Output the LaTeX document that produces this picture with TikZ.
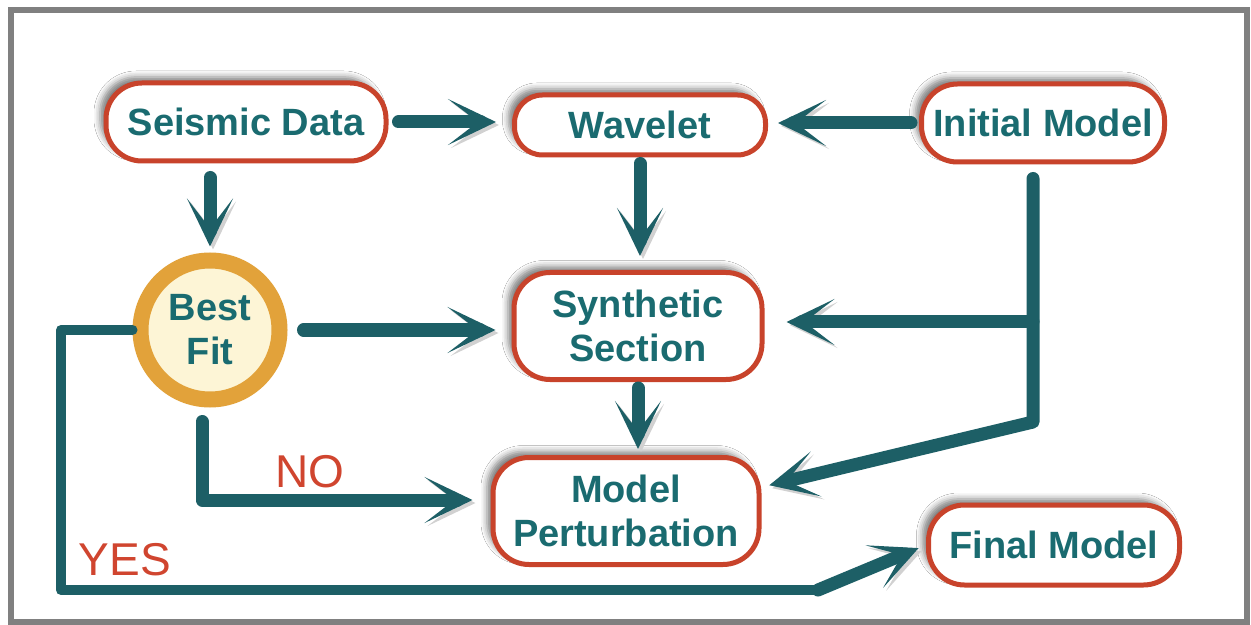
\documentclass[tikz,border=0pt]{standalone}
\usepackage{fontspec}
\setmainfont{Liberation Sans}
\usetikzlibrary{arrows.meta,shadows.blur}

\definecolor{flowteal}{HTML}{1D5F66}
\definecolor{textteal}{HTML}{1A6B70}
\definecolor{boxred}{HTML}{C8432B}
\definecolor{ringorange}{HTML}{E2A23A}
\definecolor{cream}{HTML}{FDF5D6}
\definecolor{labelred}{HTML}{D0452F}
\definecolor{framegray}{HTML}{808080}

\tikzset{
  stepbox/.style={draw=boxred, line width=2.5pt, fill=white, rounded corners=18pt,
    align=center, inner sep=0pt, text=textteal,
    font=\bfseries\fontsize{19}{22}\selectfont,
    blur shadow={shadow xshift=-3pt, shadow yshift=3pt, shadow blur radius=3pt, shadow opacity=50}},
  decision/.style={circle, draw=ringorange, line width=8pt, fill=cream, align=center,
    inner sep=0pt, minimum size=69.5pt, text=textteal,
    font=\bfseries\fontsize{19}{22}\selectfont},
  flow/.style={draw=flowteal, line width=6.5pt, line cap=round, line join=round,
    -{Stealth[length=24pt,width=23pt,inset=15pt]},
    preaction={draw=black!18, transform canvas={shift={(1.5pt,-1.5pt)}}}},
  feedback/.style={draw=flowteal, line width=5pt, line cap=round, line join=round,
    preaction={draw=black!18, transform canvas={shift={(1.5pt,-1.5pt)}}}},
  answer/.style={text=labelred, font=\fontsize{23}{23}\selectfont}
}

\begin{document}
\begin{tikzpicture}[x=0.5pt, y=-0.5pt]
  \useasboundingbox (0,0) rectangle (1251,625);
  \fill[white] (0,0) rectangle (1251,625);
  % outer frame
  \draw[framegray, line width=3pt] (11,10) rectangle (1247,622);

  % process boxes
  \node[stepbox, minimum width=140pt, minimum height=39pt] (sd) at (246,122) {Seismic Data};
  \node[stepbox, rounded corners=14pt, minimum width=125.5pt, minimum height=30pt] (wv) at (640,125) {Wavelet};
  \node[stepbox, minimum width=121.5pt, minimum height=39pt] (im) at (1043,123) {Initial Model};
  \node[decision] (bf) at (210,330) {Best\\Fit};
  \node[stepbox, minimum width=124pt, minimum height=53.5pt] (ss) at (638,326) {Synthetic\\Section};
  \node[stepbox, minimum width=133pt, minimum height=53.5pt] (mp) at (626,511) {Model\\Perturbation};
  \node[stepbox, minimum width=125.5pt, minimum height=40pt] (fm) at (1054,545) {Final Model};

  % junction points of the elbow connectors
  \coordinate (j1) at (1033,322);
  \coordinate (j2) at (1033,422);
  \coordinate (n1) at (202,500);
  \coordinate (y1) at (61,330);
  \coordinate (y2) at (61,590);
  \coordinate (y3) at (818,590);

  % straight connectors
  \draw[flow, shorten <=5pt, shorten >=8pt] (sd.east) -- (sd.east -| wv.west);
  \draw[flow, shorten <=4pt, shorten >=5pt] (im.west) -- (im.west -| wv.east);
  \draw[flow, shorten <=7pt, shorten >=3pt] (bf.north |- sd.south) -- (bf.north);
  \draw[flow, shorten <=3pt, shorten >=7pt] (wv.south) -- (wv.south |- ss.north);
  \draw[flow, shorten <=8pt, shorten >=8pt] (bf.east) -- (bf.east -| ss.west);
  \draw[flow, shorten <=3pt, shorten >=3pt] (ss.south) -- (ss.south |- mp.north);

  % initial model feeds synthetic section and perturbation
  \draw[flow, shorten <=7pt, shorten >=4pt] (im.south -| j1) -- (j2) -- (mp.10);
  \draw[flow, shorten >=11pt] (j1) -- (j1 -| ss.east);

  % NO branch
  \draw[flow, shorten <=7pt, shorten >=9pt] (n1 |- bf.south) -- (n1) -- (n1 -| mp.west);
  \node[answer] (no) at (310,472) {NO};

  % YES branch
  \draw[feedback] (bf.west) -- (y1) -- (y2) -- (y3);
  \draw[flow, shorten >=4pt] (y3) -- (fm.west);
  \node[answer] (yes) at (125,560) {YES};
\end{tikzpicture}
\end{document}
